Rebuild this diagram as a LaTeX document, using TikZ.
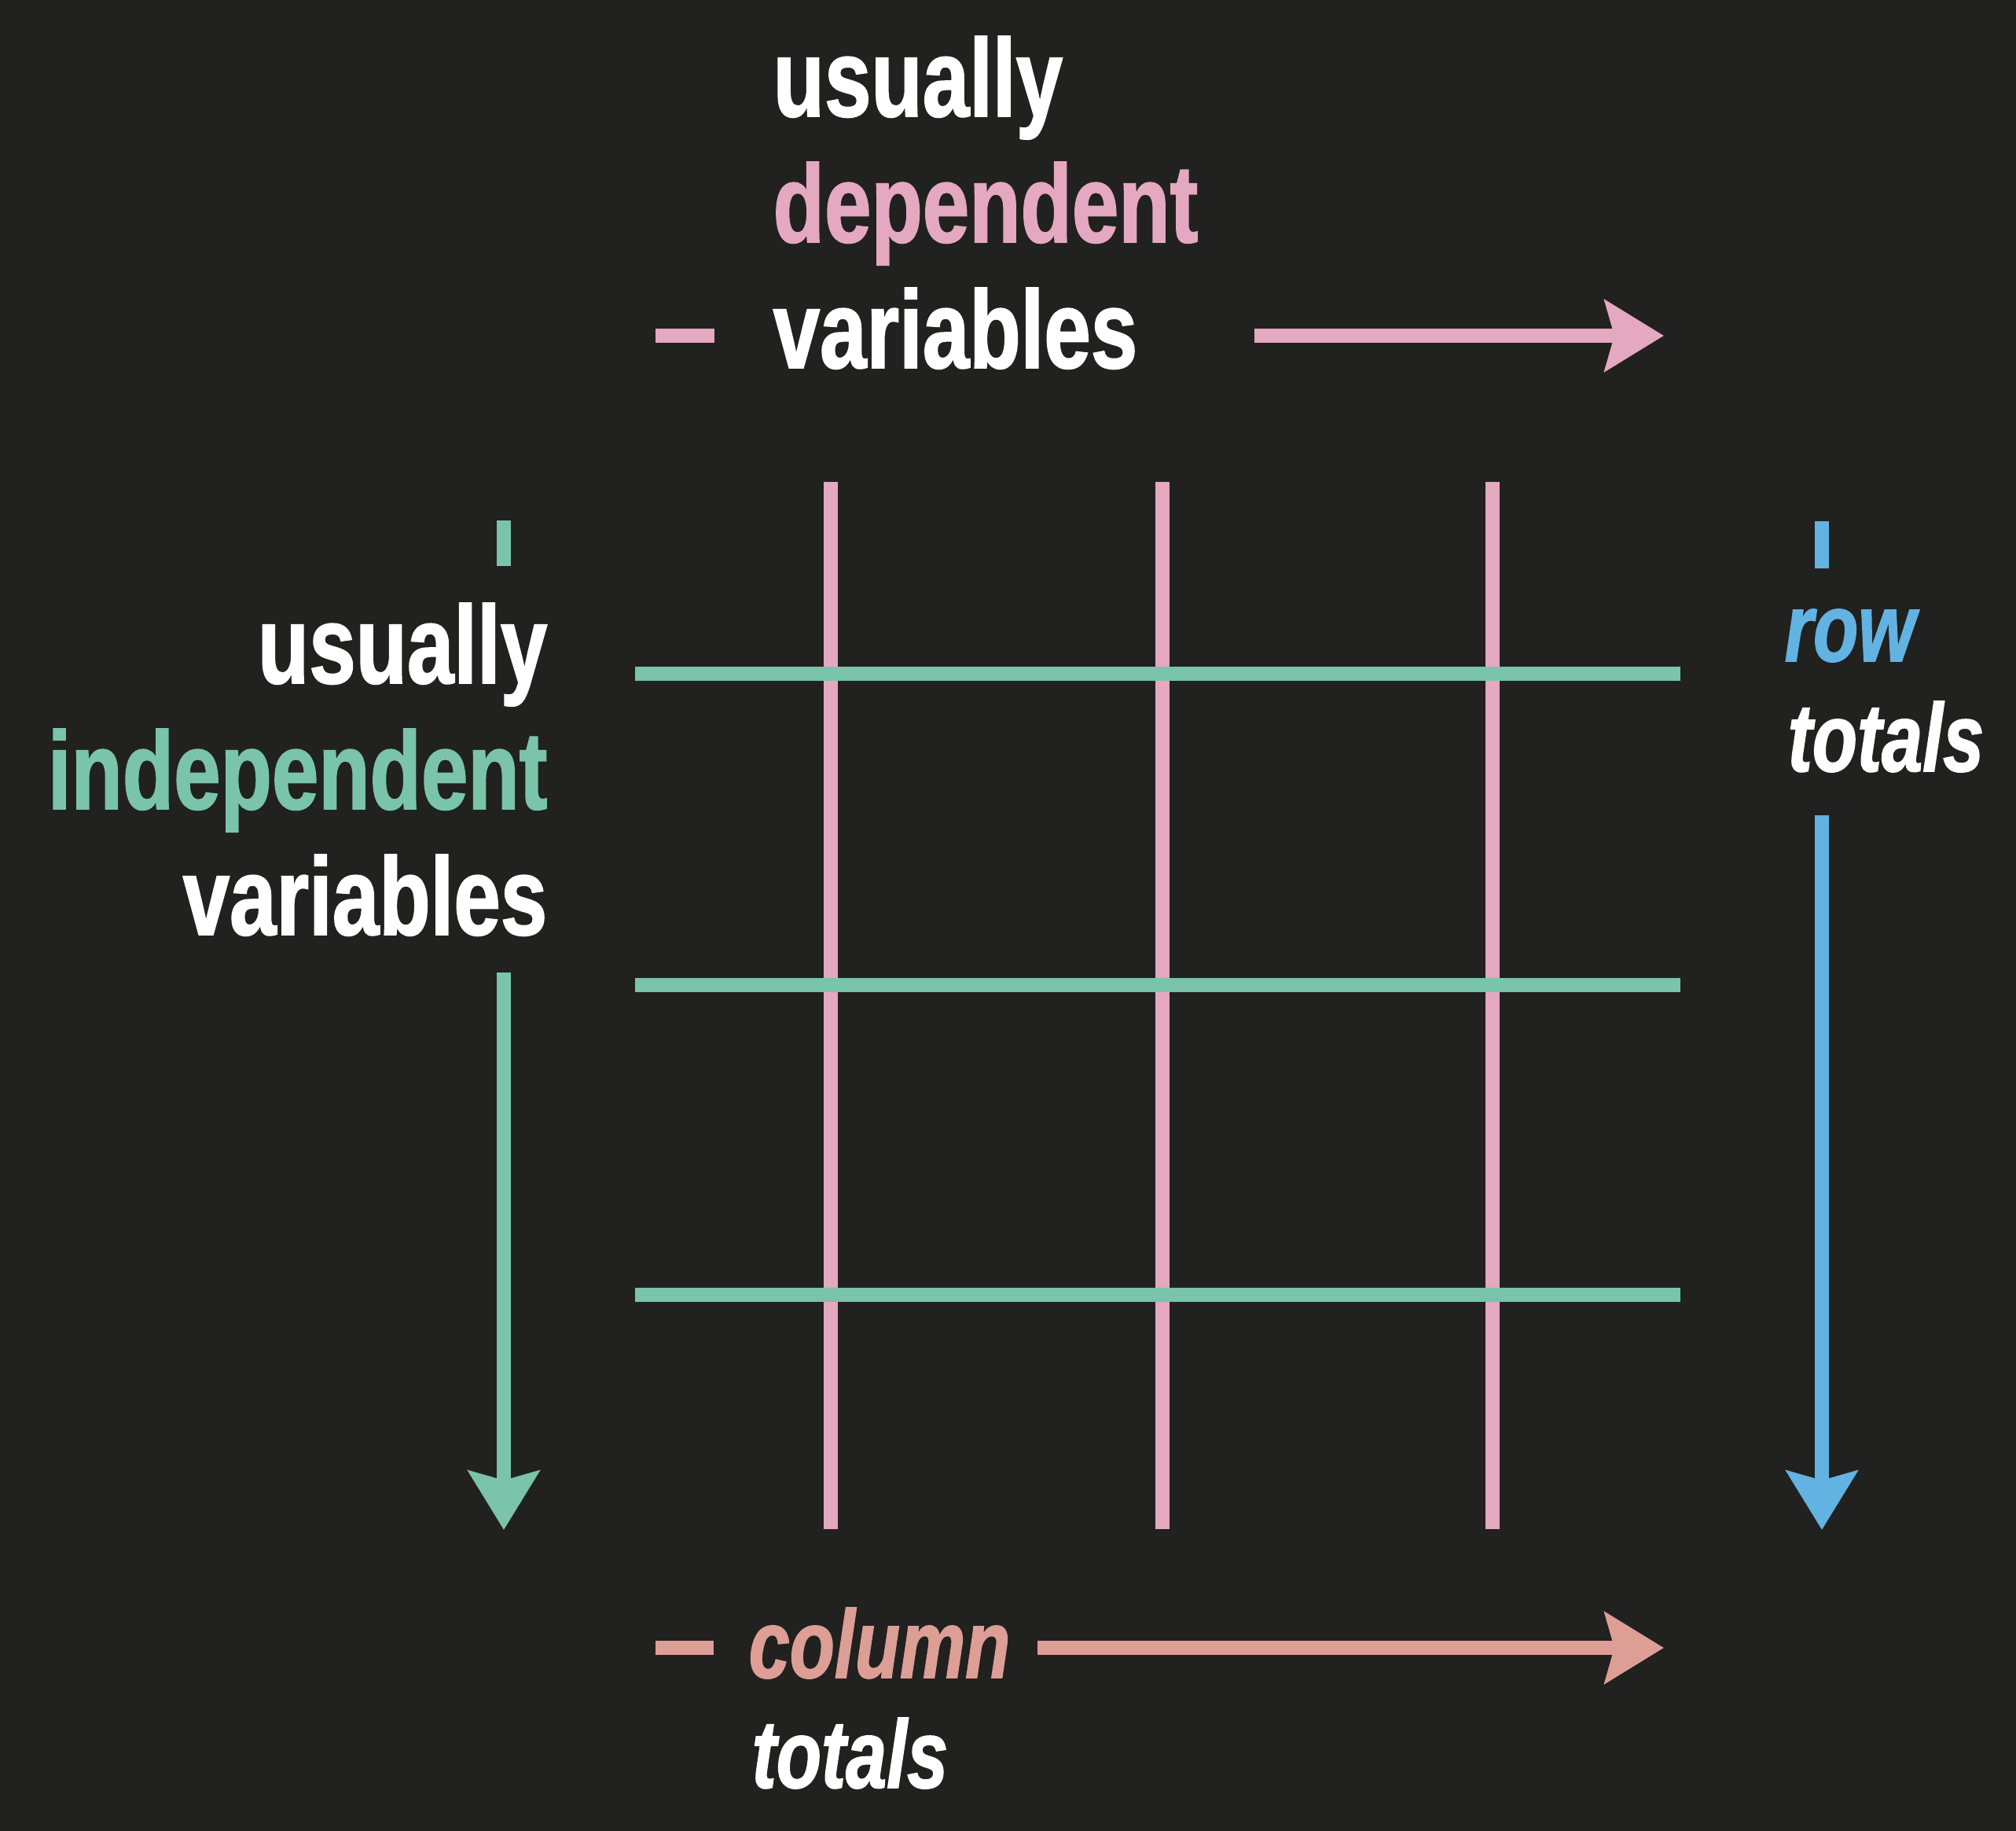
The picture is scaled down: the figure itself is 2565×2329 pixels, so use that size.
\documentclass[tikz,border=0pt]{standalone}
\usepackage{fontspec}
\setmainfont{Liberation Sans}[FakeStretch=0.76,
  BoldFeatures={FakeBold=1.3}, BoldItalicFeatures={FakeBold=1.3}]
\usetikzlibrary{arrows.meta}

\definecolor{bgdark}{RGB}{33,33,32}
\definecolor{deppink}{RGB}{228,168,192}
\definecolor{indgreen}{RGB}{121,196,170}
\definecolor{rowblue}{RGB}{98,178,226}
\definecolor{colsalmon}{RGB}{221,158,150}

\begin{document}
\begin{tikzpicture}[
  x=0.01cm, y=-0.01cm,
  % Word styles
  bigword/.style={font=\fontsize{40}{46}\selectfont\bfseries, text=white, inner sep=0pt},
  smallword/.style={font=\fontsize{35}{40}\selectfont\bfseries\itshape, text=white, inner sep=0pt},
  % Line styles
  gridline/.style={line width=0.18cm},
  stub/.style={line width=0.18cm},
  flow/.style={line width=0.18cm, -{Stealth[length=0.75cm, width=0.9cm, inset=0.12cm]}}
]

% Background
\fill[bgdark] (0,0) rectangle (2565,2329);
\useasboundingbox (0,0) rectangle (2565,2329);

% Grid: columns first, rows on top
\foreach \gx/\gname in {1057/ca, 1479/cb, 1899/cc}{
  \coordinate (\gname top) at (\gx,613);
  \coordinate (\gname bot) at (\gx,1945);
  \draw[gridline, deppink] (\gname top) -- (\gname bot);
}
\foreach \gy/\gname in {857/ra, 1253/rb, 1647/rc}{
  \coordinate (\gname left) at (808,\gy);
  \coordinate (\gname right) at (2138,\gy);
  \draw[gridline, indgreen] (\gname left) -- (\gname right);
}

% Top label: dependent variables
\node[bigword, anchor=base west] (depusually) at (983,148) {usually};
\node[bigword, anchor=base west, text=deppink] (dependent) at (983,308) {dependent};
\node[bigword, anchor=base west] (depvars) at (983,468) {variables};
\coordinate (depdashL) at (834,427);
\coordinate (depdashR) at (909,427);
\coordinate (deparrowS) at (1596,427);
\coordinate (deparrowE) at (2117,427);
\draw[stub, deppink] (depdashL) -- (depdashR);
\draw[flow, deppink] (deparrowS) -- (deparrowE);

% Left label: independent variables
\node[bigword, anchor=base east] (indusually) at (697,869) {usually};
\node[bigword, anchor=base east, text=indgreen] (independent) at (697,1029) {independent};
\node[bigword, anchor=base east] (indvars) at (697,1189) {variables};
\coordinate (indtickT) at (641,662);
\coordinate (indtickB) at (641,720);
\coordinate (indarrowS) at (641,1237);
\coordinate (indarrowE) at (641,1946);
\draw[stub, indgreen] (indtickT) -- (indtickB);
\draw[flow, indgreen] (indarrowS) -- (indarrowE);

% Right label: row totals
\node[smallword, anchor=base west, text=rowblue] (rowword) at (2270,841) {row};
\node[smallword, anchor=base west] (rowtotals) at (2274,981) {totals};
\coordinate (rowtickT) at (2318,663);
\coordinate (rowtickB) at (2318,723);
\coordinate (rowarrowS) at (2318,1037);
\coordinate (rowarrowE) at (2318,1946);
\draw[stub, rowblue] (rowtickT) -- (rowtickB);
\draw[flow, rowblue] (rowarrowS) -- (rowarrowE);

% Bottom label: column totals
\node[smallword, anchor=base west, text=colsalmon] (colword) at (952,2134) {column};
\node[smallword, anchor=base west] (coltotals) at (956,2274) {totals};
\coordinate (coldashL) at (834,2096);
\coordinate (coldashR) at (908,2096);
\coordinate (colarrowS) at (1320,2096);
\coordinate (colarrowE) at (2117,2096);
\draw[stub, colsalmon] (coldashL) -- (coldashR);
\draw[flow, colsalmon] (colarrowS) -- (colarrowE);

\end{tikzpicture}
\end{document}
